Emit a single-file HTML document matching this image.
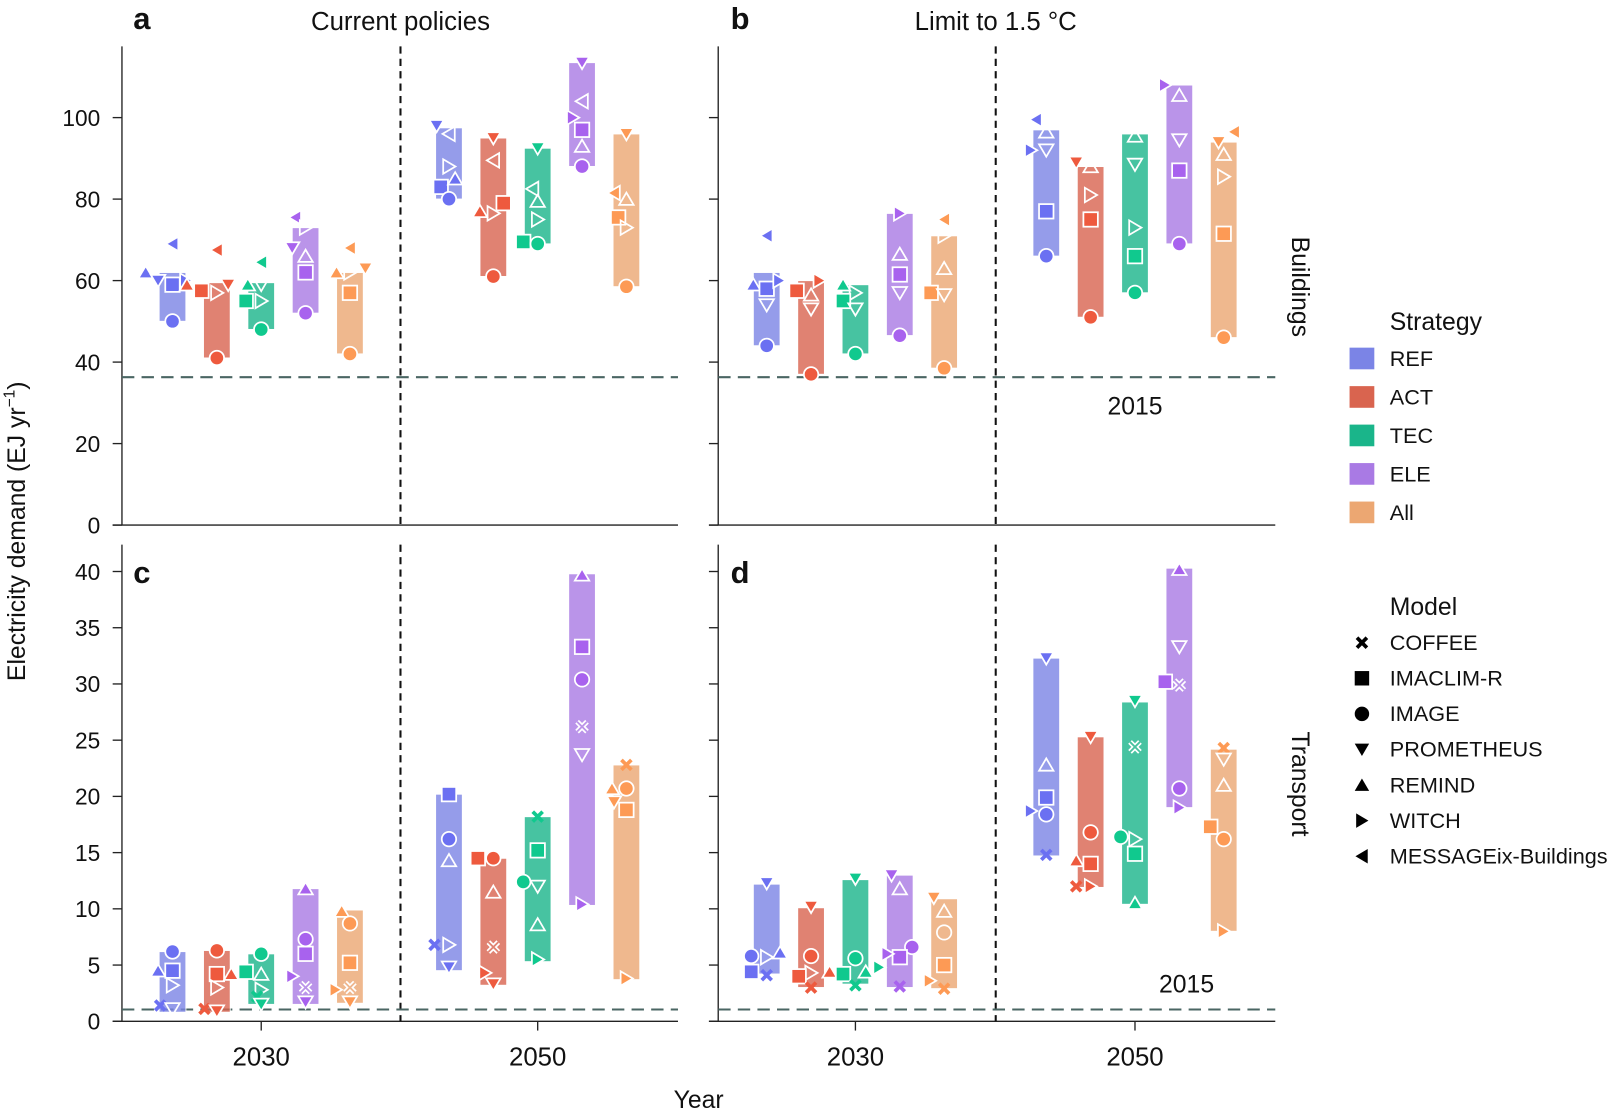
<!DOCTYPE html>
<html><head><meta charset="utf-8"><style>
html,body{margin:0;padding:0;background:#fff}
svg{display:block}
text{font-family:"Liberation Sans",sans-serif;fill:#111}
</style></head><body>
<svg id="s" width="1618" height="1110" viewBox="0 0 1568 1076" xmlns="http://www.w3.org/2000/svg"></svg>
<script>
const S=document.getElementById('s');let h='';
const bright=['#6b70f2','#ee5a3e','#10c98e','#a862ee','#fd9a55'];
const barc=['#7b84e6','#d9644f','#1ab58a','#a97ae4','#eca772'];
const barmix=['#929aea','#e08472','#48c29f','#bb94e9','#efb68d'];
function yB(v){return 509-v*3.95}
function yT(v){return 990-v*10.9}
let curBar='#fff';
function mk(sh,x,y,col,hollow){
  const f=hollow?'none':col, st='stroke="#fff" stroke-width="1.7"';
  const r=7;
  if(sh=='o')return `<circle cx="${x}" cy="${y}" r="${r}" fill="${f}" ${st}/>`;
  if(sh=='s')return `<rect x="${x-r}" y="${y-r}" width="${2*r}" height="${2*r}" fill="${f}" ${st}/>`;
  if(sh=='v')return `<polygon points="${x-r},${y-r*0.8} ${x+r},${y-r*0.8} ${x},${y+r*0.9}" fill="${f}" ${st}/>`;
  if(sh=='^')return `<polygon points="${x-r},${y+r*0.8} ${x+r},${y+r*0.8} ${x},${y-r*0.9}" fill="${f}" ${st}/>`;
  if(sh=='>')return `<polygon points="${x-r*0.8},${y-r} ${x-r*0.8},${y+r} ${x+r*0.9},${y}" fill="${f}" ${st}/>`;
  if(sh=='<')return `<polygon points="${x+r*0.8},${y-r} ${x+r*0.8},${y+r} ${x-r*0.9},${y}" fill="${f}" ${st}/>`;
  if(sh=='x'){const a=4.8;const d=`M${x-a},${y-a}L${x+a},${y+a}M${x+a},${y-a}L${x-a},${y+a}`;
    if(hollow)return `<path d="${d}" stroke="#fff" stroke-width="5"/><path d="${d}" stroke="${curBar}" stroke-width="1.8"/>`;
    return `<path d="${d}" stroke="${col}" stroke-width="3.6"/>`;}
}
function group(centers,yf,bars){
  bars.forEach((b,i)=>{
    const cx=centers[i],lo=b[0],hi=b[1];
    h+=`<rect x="${cx-13}" y="${yf(hi)}" width="26" height="${yf(lo)-yf(hi)}" fill="${barc[i]}" opacity="0.8" stroke="#fff" stroke-width="1"/>`;
  });
  bars.forEach((b,i)=>{
    const cx=centers[i],lo=b[0],hi=b[1];
    curBar=barmix[i];
    b[2].forEach(m=>{
      const sh=m[0],v=m[1],dx=m[2]||0;
      let hol=false;
      if(m[3]==='h')hol=true;
      else if(m[3]==='f')hol=false;
      else if(dx==0&&'^v<>x'.includes(sh)&&v>lo+(hi-lo)*0.02&&v<hi-(hi-lo)*0.02)hol=true;
      h+=mk(sh,cx+dx,yf(v),bright[i],hol);
    });
  });
}
function panel(x0,x1,yTop,yBot,ticks,yf,dashX,hl){
  h+=`<line x1="${x0}" y1="${yTop}" x2="${x0}" y2="${yBot}" stroke="#222" stroke-width="1.3"/>`;
  h+=`<line x1="${x0-9}" y1="${yBot}" x2="${x1}" y2="${yBot}" stroke="#222" stroke-width="1.3"/>`;
  ticks.forEach(t=>{h+=`<line x1="${x0-9}" y1="${yf(t)}" x2="${x0}" y2="${yf(t)}" stroke="#222" stroke-width="1.3"/>`;});
  h+=`<line x1="${dashX}" y1="${yTop}" x2="${dashX}" y2="${yBot}" stroke="#111" stroke-width="2" stroke-dasharray="7,5"/>`;
  h+=`<line x1="${x0}" y1="${yf(hl)}" x2="${x1}" y2="${yf(hl)}" stroke="#4a6663" stroke-width="2" stroke-dasharray="12,7"/>`;
}
panel(118,657,45,509,[0,20,40,60,80,100],yB,388,36.3);
panel(696,1236,45,509,[0,20,40,60,80,100],yB,965,36.3);
panel(118,657,528,990,[0,5,10,15,20,25,30,35,40],yT,388,1.05);
panel(696,1236,528,990,[0,5,10,15,20,25,30,35,40],yT,965,1.05);
[[253,'2030'],[521,'2050'],[829,'2030'],[1100,'2050']].forEach(t=>{
  h+=`<line x1="${t[0]}" y1="990" x2="${t[0]}" y2="999" stroke="#222" stroke-width="1.3"/>`;
  h+=`<text x="${t[0]}" y="1033" font-size="25" text-anchor="middle">${t[1]}</text>`;
});
[0,20,40,60,80,100].forEach(t=>{h+=`<text x="97" y="${yB(t)+8}" font-size="22" text-anchor="end">${t}</text>`;});
[0,5,10,15,20,25,30,35,40].forEach(t=>{h+=`<text x="97" y="${yT(t)+8}" font-size="22" text-anchor="end">${t}</text>`;});
const A1=[167,210,253,296,339],A2=[435,478,521,564,607],B1=[743,786,829,872,915],B2=[1014,1057,1100,1143,1186];
group(A1,yB,[
 [50,62,[['<',69],['^',62,-26],['v',60,-14],['s',59,0,'f'],['>',60,13],['o',50]]],
 [41,59.5,[['<',67.5],['^',59,-29],['s',57.5,-15],['>',57],['v',59,11],['o',41]]],
 [48,59.5,[['<',64.5],['^',59,-13],['v',59,0,'h'],['s',55,-15],['>',55],['o',48]]],
 [52,73,[['<',75.5,-10],['>',73,0,'h'],['v',68,-13],['^',66],['s',62,0,'f'],['o',52]]],
 [42,62,[['<',68],['^',62,-13],['>',62,0,'h'],['v',63,15],['s',57,0,'f'],['o',42]]]]);
group(A2,yB,[
 [80,97.5,[['v',98,-12],['<',96],['>',88],['s',83,-8],['^',85,6],['o',80]]],
 [61,95,[['v',95],['<',89.5],['s',79,10],['^',77,-13],['>',76.5],['o',61]]],
 [69,92.5,[['v',92.5],['<',82.5,-5,'h'],['^',79.5],['>',75],['s',69.5,-14],['o',69]]],
 [88,113.5,[['v',113.5],['<',104],['>',100,-9],['s',97],['^',93],['o',88]]],
 [58.5,96,[['v',96],['<',81.5,-12],['^',80],['s',75.5,-8],['>',73],['o',58.5]]]]);
group(B1,yB,[
 [44,62,[['<',71],['^',59,-13],['s',58],['>',60,12],['v',54],['o',44]]],
 [37,60,[['s',57.5,-14],['^',56.5],['>',60,8],['v',53],['o',37]]],
 [42,59,[['^',59,-12],['>',57],['s',55,-12],['v',53],['o',42]]],
 [46.5,76.5,[['>',76.5],['^',66.5],['s',61.5],['v',57],['o',46.5]]],
 [38.5,71,[['<',75],['>',71,0,'h'],['^',63],['s',57,-13],['v',56.5],['o',38.5]]]]);
group(B2,yB,[
 [66,97,[['<',99.5,-10],['^',96.5,0,'h'],['>',92,-15],['v',92],['s',77],['o',66]]],
 [51,88,[['v',89,-14],['^',88,0,'h'],['>',81],['s',75],['o',51]]],
 [57,96,[['^',95.5,0,'h'],['v',88.5],['>',73],['s',66],['o',57]]],
 [69,108,[['>',108,-14],['^',105.5],['v',94.5],['s',87],['o',69]]],
 [46,94,[['<',96.5,10],['v',94,-5],['^',91],['>',85.5],['s',71.5],['o',46]]]]);
group(A1,yT,[
 [0.8,6.2,[['o',6.2],['^',4.5,-14],['s',4.5],['>',3.2],['x',1.4,-12],['v',1.1]]],
 [0.8,6.3,[['o',6.3],['s',4.2],['^',4.2,14],['>',3],['x',1.1,-12],['v',0.9]]],
 [1.5,6,[['o',6],['s',4.4,-15],['^',4.2],['>',2.8],['x',2.2,-4],['v',1.5]]],
 [1.5,11.8,[['^',11.8],['o',7.3],['s',6],['>',4,-13],['x',3],['v',1.7]]],
 [1.6,9.9,[['^',9.8,-8],['o',8.7],['s',5.2],['>',2.8,-14],['x',3],['v',1.7]]]]);
group(A2,yT,[
 [4.5,20.2,[['s',20.2],['o',16.2],['^',14.3],['x',6.8,-14],['>',6.8],['v',4.8]]],
 [3.2,14.5,[['s',14.5,-15],['o',14.5],['^',11.5],['x',6.6],['>',4.3,-8],['v',3.3]]],
 [5.3,18.2,[['x',18.2],['s',15.2],['o',12.4,-14],['v',12],['^',8.6],['>',5.5]]],
 [10.3,39.8,[['^',39.7],['s',33.3],['o',30.4],['x',26.2],['v',23.7],['>',10.4]]],
 [3.7,22.8,[['x',22.8],['o',20.7],['^',20.7,-14],['v',19.5,-12],['s',18.8],['>',3.8]]]]);
group(B1,yT,[
 [4.2,12.2,[['v',12.3],['o',5.8,-15],['>',5.7],['^',6.1,13],['s',4.4,-15],['x',4.1]]],
 [3,10.1,[['v',10.2],['o',5.8],['>',4.3],['^',4.4,18],['s',4,-12],['x',3]]],
 [3.3,12.6,[['v',12.7],['o',5.6],['s',4.2,-12],['^',4.4,10],['x',3.2],['>',4.8,23]]],
 [3,13,[['v',13,-8],['^',11.8],['o',6.6,12],['s',5.7],['>',6,-12],['x',3.1]]],
 [2.9,10.9,[['v',11,-10],['^',9.8],['o',7.9,0,'h'],['s',5],['>',3.6,-14],['x',2.9]]]]);
group(B2,yT,[
 [14.7,32.3,[['v',32.3],['^',22.8],['s',19.9],['>',18.7,-15],['o',18.4],['x',14.8]]],
 [11.9,25.3,[['v',25.3],['o',16.8],['^',14.3,-14],['s',14],['x',12,-14],['>',12]]],
 [10.4,28.4,[['v',28.5],['x',24.4],['o',16.4,-14],['>',16.2],['s',14.9],['^',10.5]]],
 [19,40.3,[['^',40.2],['v',33.3],['s',30.2,-14],['x',29.9],['o',20.7],['>',19]]],
 [8,24.2,[['x',24.3],['v',23.3],['^',21],['s',17.3,-13],['o',16.2],['>',8]]]]);
h+=`<text x="129" y="28" font-size="30" font-weight="bold">a</text>`;
h+=`<text x="708" y="28" font-size="30" font-weight="bold">b</text>`;
h+=`<text x="129" y="565" font-size="30" font-weight="bold">c</text>`;
h+=`<text x="708" y="565" font-size="30" font-weight="bold">d</text>`;
h+=`<text x="388" y="29" font-size="25" text-anchor="middle">Current policies</text>`;
h+=`<text x="965" y="29" font-size="25" text-anchor="middle">Limit to 1.5 °C</text>`;
h+=`<text x="1100" y="402" font-size="24" text-anchor="middle">2015</text>`;
h+=`<text x="1150" y="962" font-size="24" text-anchor="middle">2015</text>`;
h+=`<text x="677" y="1074" font-size="24" text-anchor="middle">Year</text>`;
h+=`<text transform="translate(24,515) rotate(-90)" font-size="24" text-anchor="middle">Electricity demand (EJ yr<tspan font-size="15" dy="-10">−1</tspan><tspan dy="10">)</tspan></text>`;
h+=`<text transform="translate(1252,278) rotate(90)" font-size="24" text-anchor="middle">Buildings</text>`;
h+=`<text transform="translate(1252,760) rotate(90)" font-size="24" text-anchor="middle">Transport</text>`;
h+=`<text x="1347" y="320" font-size="24">Strategy</text>`;
['REF','ACT','TEC','ELE','All'].forEach((n,i)=>{const y=348+i*37.3;
 h+=`<rect x="1308" y="${y-11}" width="24" height="21" fill="${barc[i]}"/>`;
 h+=`<text x="1347" y="${y+7}" font-size="21">${n}</text>`;});
h+=`<text x="1347" y="596" font-size="24">Model</text>`;
const mods=[['x','COFFEE'],['s','IMACLIM-R'],['o','IMAGE'],['v','PROMETHEUS'],['^','REMIND'],['>','WITCH'],['<','MESSAGEix-Buildings']];
mods.forEach((m,i)=>{const y=623+i*34.5;
 h+=mk(m[0],1320,y,'#000',false).replace('stroke="#fff"','stroke="none"');
 h+=`<text x="1347" y="${y+7}" font-size="21">${m[1]}</text>`;});
S.innerHTML=h;
</script>
</body></html>
